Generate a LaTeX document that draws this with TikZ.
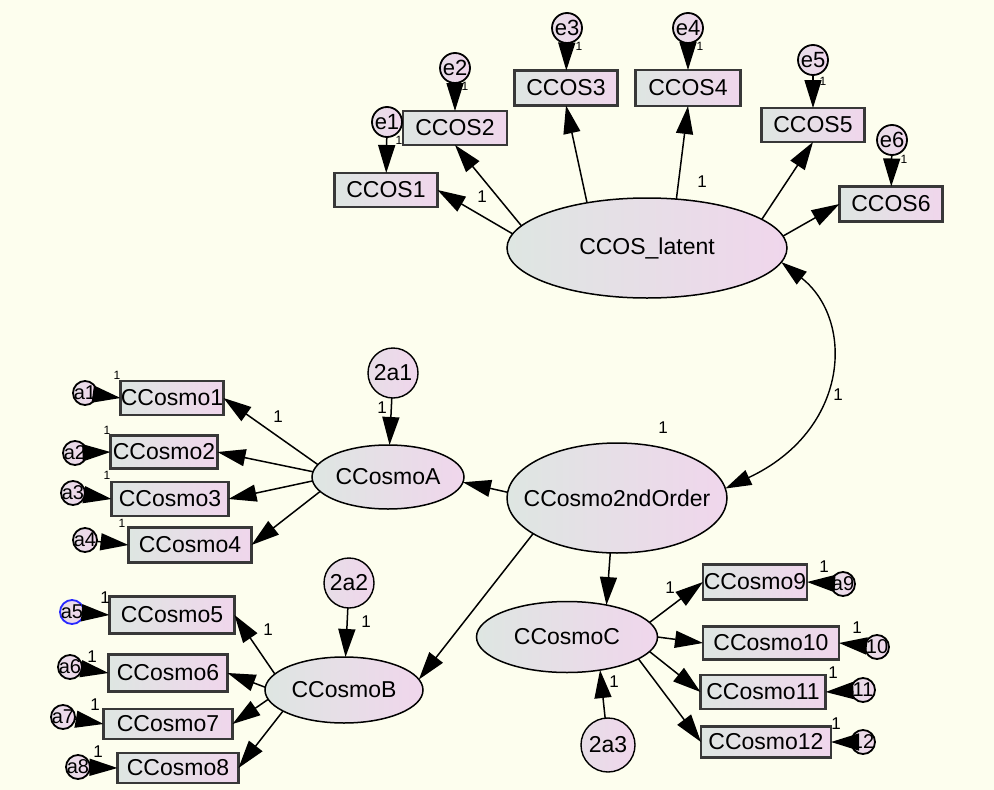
\documentclass[tikz,border=0pt]{standalone}
\usepackage{fontspec}
\setmainfont{Liberation Sans}
\usetikzlibrary{shapes.geometric,arrows.meta}
\definecolor{bgcream}{RGB}{253,254,238}
\definecolor{shL}{RGB}{222,230,226}
\definecolor{shR}{RGB}{240,214,236}
\definecolor{selblue}{RGB}{40,40,255}
\begin{document}
\begin{tikzpicture}[x=1pt,y=-1pt,
  every node/.style={inner sep=0pt, outer sep=0pt},
  obs/.style={rectangle, draw=black!78, line width=2.4pt, left color=shL, right color=shR,
    minimum height=34pt, font=\fontsize{23}{26}\selectfont},
  lat/.style={ellipse, draw=black, line width=1.5pt, left color=shL, right color=shR,
    font=\fontsize{23}{26}\selectfont},
  err/.style={circle, draw=black, line width=1.8pt, left color=shL!50!shR, right color=shR,
    minimum size=30pt, font=\fontsize{22}{24}\selectfont},
  errs/.style={err, minimum size=24pt, font=\fontsize{20}{22}\selectfont},
  dist/.style={circle, draw=black, line width=1.4pt, left color=shL!50!shR, right color=shR,
    minimum size=50pt, font=\fontsize{23}{26}\selectfont},
  regr/.style={line width=1.5pt, -{Triangle[length=28pt,width=17pt]}},
  one/.style={font=\fontsize{17}{18}\selectfont},
  onesm/.style={font=\fontsize{12}{13}\selectfont},
]
\fill[bgcream] (0,0) rectangle (994,790);
\useasboundingbox (0,0) rectangle (994,790);

% ---------- first-order factor CCOS_latent and its indicators ----------
\node[lat, minimum width=280pt, minimum height=100pt] (lat) at (647,248) {\makebox[0pt]{CCOS\_latent}};
\node[obs, minimum width=103pt] (ccos1) at (386,190) {\makebox[0pt]{CCOS1}};
\node[obs, minimum width=104pt] (ccos2) at (455,128) {\makebox[0pt]{CCOS2}};
\node[obs, minimum width=103pt, minimum height=35pt] (ccos3) at (566,88) {\makebox[0pt]{CCOS3}};
\node[obs, minimum width=105pt, minimum height=36pt] (ccos4) at (688,88) {\makebox[0pt]{CCOS4}};
\node[obs, minimum width=103pt] (ccos5) at (813,125) {\makebox[0pt]{CCOS5}};
\node[obs, minimum width=103pt, minimum height=35pt] (ccos6) at (891,204) {\makebox[0pt]{CCOS6}};

\node[err] (e1) at (387,122) {\makebox[0pt]{e1}};
\node[err] (e2) at (455,68) {\makebox[0pt]{e2}};
\node[err] (e3) at (567,28) {\makebox[0pt]{e3}};
\node[err] (e4) at (688,28) {\makebox[0pt]{e4}};
\node[err] (e5) at (813,60) {\makebox[0pt]{e5}};
\node[err] (e6) at (892,140) {\makebox[0pt]{e6}};

\foreach \e/\b in {e1/ccos1,e2/ccos2,e3/ccos3,e4/ccos4,e5/ccos5,e6/ccos6}
  \draw[regr] (\e) -- (\b);

\draw[regr] (lat.174) -- (ccos1.east);
\draw[regr] (lat.170) -- (ccos2.south);
\draw[regr] (lat.143) -- (ccos3.south);
\draw[regr] (lat.59) -- (ccos4.south);
\draw[regr] (lat.14) -- (ccos5.south);
\draw[regr] (lat.5) -- (ccos6.west);

\node[one] (w1) at (482,197) {1};
\node[one] (w4) at (702,182) {1};
\node[onesm] (v1) at (399,140) {1};
\node[onesm] (v2) at (465,86) {1};
\node[onesm] (v3) at (579,46) {1};
\node[onesm] (v4) at (700,46) {1};
\node[onesm] (v5) at (823,81) {1};
\node[onesm] (v6) at (904,159) {1};

% ---------- second-order factor ----------
\node[lat, minimum width=220pt, minimum height=110pt] (c2) at (617,498) {\makebox[0pt]{CCosmo2ndOrder}};
\node[one] (v2nd) at (663,428) {1};
\draw[line width=1.4pt, {Triangle[length=26pt,width=16pt]}-{Triangle[length=26pt,width=16pt]}]
  (lat.-6) .. controls (855,320) and (850,430) .. (c2.5);
\node[one] (wcov) at (838,395) {1};

% ---------- CCosmoA ----------
\node[lat, minimum width=152pt, minimum height=64pt] (ca) at (388,477) {\makebox[0pt]{CCosmoA}};
\node[dist] (d1) at (393,373) {\makebox[0pt]{2a1}};
\draw[regr] (d1) -- (ca);
\node[one] (vd1) at (382,408) {1};
\draw[regr] (c2.177) -- (ca.-4);

\node[obs, minimum width=103pt] (cm1) at (172,398) {\makebox[0pt]{CCosmo1}};
\node[obs, minimum width=107pt, minimum height=33pt] (cm2) at (164,452) {\makebox[0pt]{CCosmo2}};
\node[obs, minimum width=117pt] (cm3) at (170,499) {\makebox[0pt]{CCosmo3}};
\node[obs, minimum width=123pt, minimum height=35pt] (cm4) at (190,545) {\makebox[0pt]{CCosmo4}};
\draw[regr] (ca.170) -- (cm1.east);
\draw[regr] (ca.176) -- (cm2.east);
\draw[regr] (ca.183) -- (cm3.east);
\draw[regr] (ca.192) -- (cm4.east);
\node[one] (wa1) at (278,417) {1};

\node[errs] (a1) at (85,393) {\makebox[0pt]{a1}};
\node[errs] (a2) at (75,453) {\makebox[0pt]{a2}};
\node[errs] (a3) at (73,493) {\makebox[0pt]{a3}};
\node[errs] (a4) at (85,540) {\makebox[0pt]{a4}};
\foreach \e/\b in {a1/cm1,a2/cm2,a3/cm3,a4/cm4}
  \draw[regr] (\e) -- (\b.west);
\node[onesm] (va1) at (117,375) {1};
\node[onesm] (va2) at (107,430) {1};
\node[onesm] (va3) at (107,475) {1};
\node[onesm] (va4) at (122,523) {1};

% ---------- CCosmoB ----------
\node[lat, minimum width=158pt, minimum height=66pt] (cb) at (344,690) {\makebox[0pt]{CCosmoB}};
\node[dist] (d2) at (349,583) {\makebox[0pt]{2a2}};
\draw[regr] (d2) -- (cb);
\node[one] (vd2) at (366,622) {1};
\draw[regr] (c2.203) -- (cb.8);

\node[obs, minimum width=125pt, minimum height=37pt] (cm5) at (172,615) {\makebox[0pt]{CCosmo5}};
\node[obs, minimum width=119pt, minimum height=37pt] (cm6) at (168,673) {\makebox[0pt]{CCosmo6}};
\node[obs, minimum width=129pt, minimum height=30pt] (cm7) at (168,724) {\makebox[0pt]{CCosmo7}};
\node[obs, minimum width=121pt, minimum height=30pt] (cm8) at (178,768) {\makebox[0pt]{CCosmo8}};
\draw[regr] (cb.167) -- (cm5.east);
\draw[regr] (cb.178) -- (cm6.east);
\draw[regr] (cb.187) -- (cm7.east);
\draw[regr] (cb.199) -- (cm8.east);
\node[one] (wb5) at (268,630) {1};

\node[errs, draw=selblue] (a5) at (72,612) {\makebox[0pt]{a5}};
\node[errs] (a6) at (70,667) {\makebox[0pt]{a6}};
\node[errs] (a7) at (63,717) {\makebox[0pt]{a7}};
\node[errs] (a8) at (78,767) {\makebox[0pt]{a8}};
\foreach \e/\b in {a5/cm5,a6/cm6,a7/cm7,a8/cm8}
  \draw[regr] (\e) -- (\b.west);
\node[one] (va5) at (105,598) {1};
\node[one] (va6) at (92,657) {1};
\node[one] (va7) at (95,705) {1};
\node[one] (va8) at (98,752) {1};

% ---------- CCosmoC ----------
\node[lat, minimum width=181pt, minimum height=71pt] (cc) at (567,637) {\makebox[0pt]{CCosmoC}};
\node[dist, minimum size=54pt] (d3) at (608,745) {\makebox[0pt]{2a3}};
\draw[regr] (d3) -- (cc.-45);
\node[one] (vd3) at (614,682) {1};
\draw[regr] (c2.263) -- (cc.39);

\node[obs, minimum width=104pt, minimum height=35pt] (cm9) at (755,582) {\makebox[0pt]{CCosmo9}};
\node[obs, minimum width=136pt, minimum height=33pt] (cm10) at (771,643) {\makebox[0pt]{CCosmo10}};
\node[obs, minimum width=125pt] (cm11) at (763,692) {\makebox[0pt]{CCosmo11}};
\node[obs, minimum width=130pt, minimum height=31pt] (cm12) at (766,742) {\makebox[0pt]{CCosmo12}};
\draw[regr] (cc.10) -- (cm9.west);
\draw[regr] (cc.0) -- (cm10.west);
\draw[regr] (cc.-10) -- (cm11.west);
\draw[regr] (cc.-17) -- (cm12.west);
\node[one] (wc9) at (670,588) {1};

\node[errs] (a9) at (843,584) {\makebox[0pt]{a9}};
\node[errs] (a10) at (877,647) {\makebox[0pt]{10}};
\node[errs] (a11) at (863,690) {\makebox[0pt]{11}};
\node[errs] (a12) at (863,742) {\makebox[0pt]{12}};
\foreach \e/\b in {a9/cm9,a10/cm10,a11/cm11,a12/cm12}
  \draw[regr] (\e) -- (\b.east);
\node[one] (va9) at (824,567) {1};
\node[one] (va10) at (857,628) {1};
\node[one] (va11) at (833,673) {1};
\node[one] (va12) at (836,724) {1};
\end{tikzpicture}
\end{document}
